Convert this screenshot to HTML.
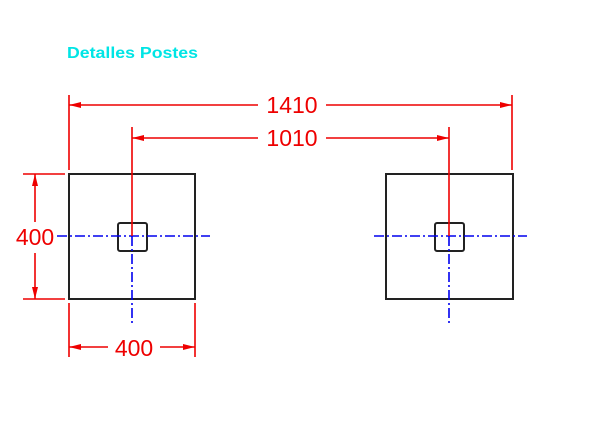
<!DOCTYPE html>
<html><head><style>body{margin:0;background:#fff}svg{display:block}</style></head><body>
<svg width="600" height="421" viewBox="0 0 600 421" xmlns="http://www.w3.org/2000/svg" font-family="Liberation Sans, sans-serif">
<text x="67" y="58" fill="#00e5e5" font-size="16" font-weight="bold" textLength="131" lengthAdjust="spacingAndGlyphs">Detalles Postes</text>
<g fill="none" stroke="#222" stroke-width="2">
<rect x="69" y="174" width="126" height="125"/>
<rect x="118" y="223" width="29" height="28" rx="2"/>
<rect x="386" y="174" width="127" height="125"/>
<rect x="435" y="223" width="29" height="28" rx="2"/>
</g>
<g stroke="#0000ee" stroke-width="1.6" stroke-dasharray="10,3,2,3">
<line x1="57" y1="236" x2="210" y2="236"/>
<line x1="132" y1="236" x2="132" y2="325"/>
<line x1="374" y1="236" x2="527" y2="236"/>
<line x1="449" y1="236" x2="449" y2="325"/>
</g>
<g stroke="#ee0000" stroke-width="1.6" fill="none">
<line x1="69" y1="95" x2="69" y2="170"/>
<line x1="512" y1="95" x2="512" y2="170"/>
<line x1="69" y1="105" x2="258" y2="105"/>
<line x1="326" y1="105" x2="512" y2="105"/>
<line x1="132" y1="127" x2="132" y2="236"/>
<line x1="449" y1="127" x2="449" y2="236"/>
<line x1="132" y1="138" x2="258" y2="138"/>
<line x1="326" y1="138" x2="449" y2="138"/>
<line x1="23" y1="174" x2="65" y2="174"/>
<line x1="23" y1="299" x2="65" y2="299"/>
<line x1="35" y1="174" x2="35" y2="222"/>
<line x1="35" y1="253" x2="35" y2="299"/>
<line x1="69" y1="303" x2="69" y2="357"/>
<line x1="195" y1="303" x2="195" y2="357"/>
<line x1="69" y1="347" x2="108" y2="347"/>
<line x1="160" y1="347" x2="195" y2="347"/>
</g>
<g fill="#ee0000">
<polygon points="69,105 81,102 81,108"/>
<polygon points="512,105 500,102 500,108"/>
<polygon points="132,138 144,135 144,141"/>
<polygon points="449,138 437,135 437,141"/>
<polygon points="35,174 32,186 38,186"/>
<polygon points="35,299 32,287 38,287"/>
<polygon points="69,347 81,344 81,350"/>
<polygon points="195,347 183,344 183,350"/>
</g>
<g fill="#ee0000" font-size="23" text-anchor="middle">
<text x="292" y="113">1410</text>
<text x="292" y="146">1010</text>
<text x="35" y="245">400</text>
<text x="134" y="356">400</text>
</g>
</svg>
</body></html>
